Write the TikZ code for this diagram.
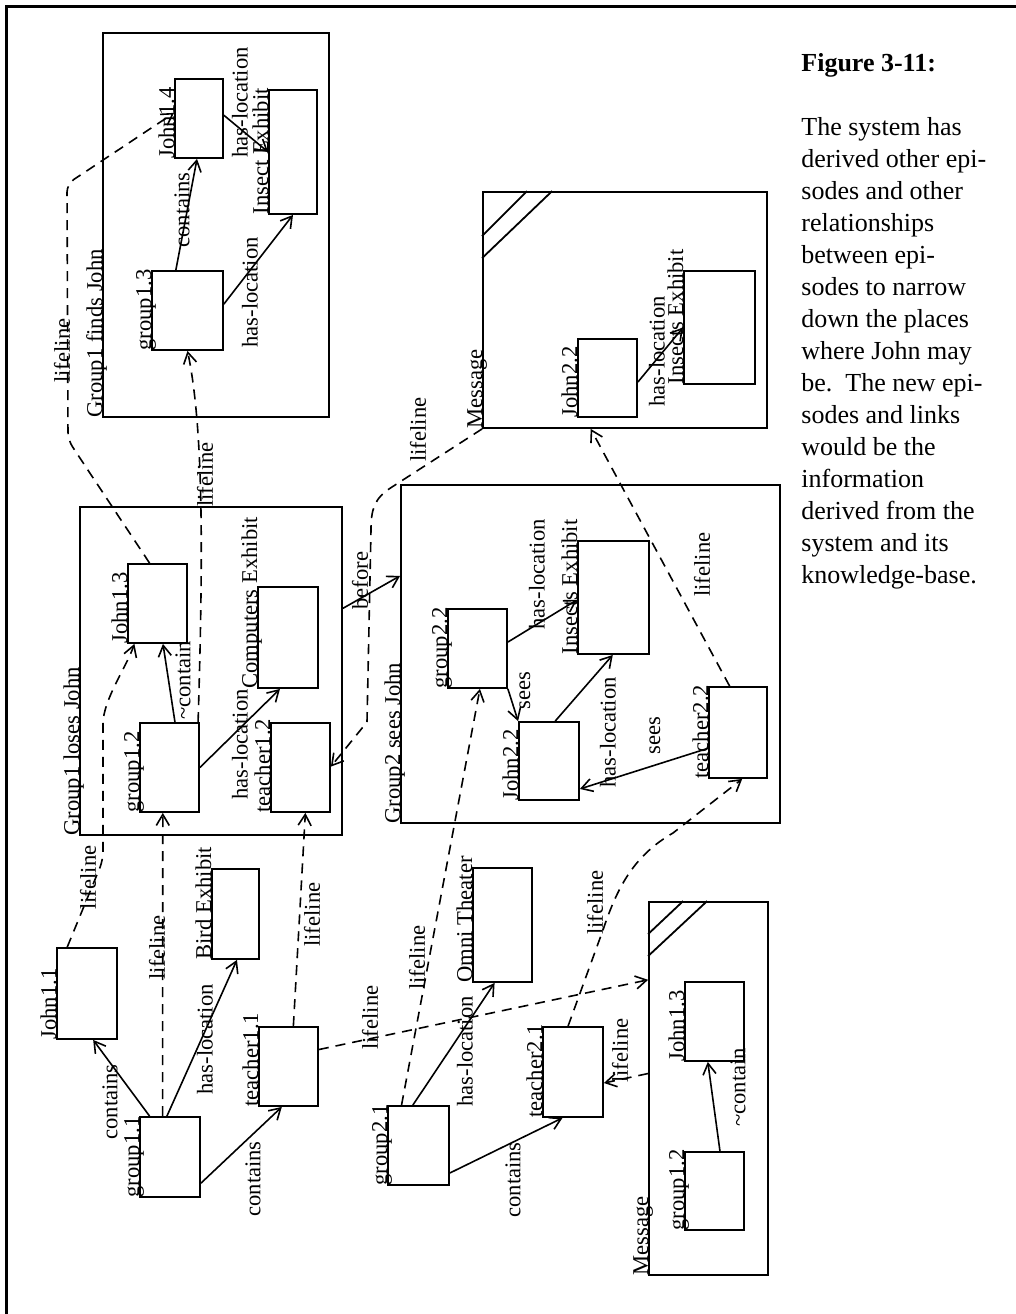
\documentclass[tikz,border=0pt]{standalone}
\usepackage{fontspec}
\setmainfont{Liberation Serif}
\usetikzlibrary{arrows.meta,calc,fit}
\begin{document}
\begin{tikzpicture}[x=0.5pt,y=-0.5pt,
  box/.style={draw,line width=0.9pt,inner sep=0pt},
  lbl/.style={rotate=90,inner sep=0pt,font=\fontsize{11.3pt}{13pt}\selectfont},
  boxlbl/.style={lbl,anchor=base west},
  edgelbl/.style={lbl,anchor=west},
  rel/.style={line width=0.8pt,-{Straight Barb[length=5.5pt,width=6.5pt,line width=0.8pt]}},
  life/.style={rel,dash pattern=on 5pt off 3.5pt},
  hatch/.style={line width=0.9pt}
]
\useasboundingbox (0,0) rectangle (1016,1314);
% page frame
\draw[line width=1.5pt] (6.5,1314) -- (6.5,6.5) -- (1016,6.5);

% ---------- episode: Group1 finds John ----------
\node[box,fit={(103,33) (329,417)}] (g1f) {};
\node[box,fit={(175,79) (223,158)}] (j14) {};
\node[box,fit={(269,90) (317,214)}] (ie1) {};
\node[box,fit={(152,271) (223,350)}] (g13) {};
\node[boxlbl] (g1f-l) at (g1f.south west) {Group1 finds John};
\node[boxlbl] (j14-l) at (j14.south west) {John1.4};
\node[boxlbl] (ie1-l) at (ie1.south west) {Insect Exhibit};
\node[boxlbl] (g13-l) at (g13.south west) {group1.3};

% ---------- episode: Group1 loses John ----------
\node[box,fit={(80,507) (342,835)}] (g1l) {};
\node[box,fit={(128,564) (187,643)}] (j13) {};
\node[box,fit={(258,587) (318,688)}] (ce) {};
\node[box,fit={(140,723) (199,812)}] (g12) {};
\node[box,fit={(271,723) (330,812)}] (t12) {};
\node[boxlbl] (g1l-l) at (g1l.south west) {Group1 loses John};
\node[boxlbl] (j13-l) at (j13.south west) {John1.3};
\node[boxlbl] (ce-l) at (ce.south west) {Computers Exhibit};
\node[boxlbl] (g12-l) at (g12.south west) {group1.2};
\node[boxlbl] (t12-l) at (t12.south west) {teacher1.2};

% ---------- message (upper) ----------
\node[box,fit={(483,192) (767,428)}] (msgt) {};
\node[box,fit={(578,339) (637,417)}] (j22m) {};
\node[box,fit={(684,271) (755,384)}] (iem) {};
\draw[hatch] ($(msgt.north west)+(0,45)$) -- ($(msgt.north west)+(45,0)$);
\draw[hatch] ($(msgt.north west)+(0,67)$) -- ($(msgt.north west)+(70,0)$);
\node[boxlbl] (msgt-l) at (msgt.south west) {Message};
\node[boxlbl] (j22m-l) at (j22m.south west) {John2.2};
\node[boxlbl] (iem-l) at (iem.south west) {Insects Exhibit};

% ---------- episode: Group2 sees John ----------
\node[box,fit={(401,485) (780,823)}] (g2s) {};
\node[box,fit={(448,609) (507,688)}] (g22) {};
\node[box,fit={(578,541) (649,654)}] (ie2) {};
\node[box,fit={(519,722) (579,800)}] (j22) {};
\node[box,fit={(709,687) (767,778)}] (t22) {};
\node[boxlbl] (g2s-l) at (g2s.south west) {Group2 sees John};
\node[boxlbl] (g22-l) at (g22.south west) {group2.2};
\node[boxlbl] (ie2-l) at (ie2.south west) {Insects Exhibit};
\node[boxlbl] (j22-l) at (j22.south west) {John2.2};
\node[boxlbl] (t22-l) at (t22.south west) {teacher2.2};

% ---------- initial episode, group 1 ----------
\node[box,fit={(57,948) (117,1039)}] (j11) {};
\node[box,fit={(212,869) (259,959)}] (be) {};
\node[box,fit={(140,1117) (200,1197)}] (g11) {};
\node[box,fit={(259,1027) (318,1106)}] (t11) {};
\node[boxlbl] (j11-l) at (j11.south west) {John1.1};
\node[boxlbl] (be-l) at (be.south west) {Bird Exhibit};
\node[boxlbl] (g11-l) at (g11.south west) {group1.1};
\node[boxlbl] (t11-l) at (t11.south west) {teacher1.1};

% ---------- initial episode, group 2 ----------
\node[box,fit={(473,868) (532,982)}] (ot) {};
\node[box,fit={(388,1106) (449,1185)}] (g21) {};
\node[box,fit={(543,1027) (603,1117)}] (t21) {};
\node[boxlbl] (ot-l) at (ot.south west) {Omni Theater};
\node[boxlbl] (g21-l) at (g21.south west) {group2.1};
\node[boxlbl] (t21-l) at (t21.south west) {teacher2.1};

% ---------- message (lower) ----------
\node[box,fit={(649,902) (768,1275)}] (msgb) {};
\node[box,fit={(685,982) (744,1061)}] (j13m) {};
\node[box,fit={(685,1152) (744,1230)}] (g12m) {};
\draw[hatch] ($(msgb.north west)+(0,33)$) -- ($(msgb.north west)+(35,0)$);
\draw[hatch] ($(msgb.north west)+(0,55)$) -- ($(msgb.north west)+(59,0)$);
\node[boxlbl] (msgb-l) at (msgb.south west) {Message};
\node[boxlbl] (j13m-l) at (j13m.south west) {John1.3};
\node[boxlbl] (g12m-l) at (g12m.south west) {group1.2};

% ---------- relations ----------
\draw[rel] ($(g13.north west)!0.34!(g13.north east)$) -- ($(j14.south west)!0.46!(j14.south east)$);
\draw[rel] ($(g13.north east)!0.42!(g13.south east)$) -- ($(ie1.south west)!0.5!(ie1.south east)$);
\draw[rel] ($(j14.north east)!0.46!(j14.south east)$) -- ($(ie1.north west)!0.5!(ie1.south west)$);
\draw[rel] ($(g12.north west)!0.59!(g12.north east)$) -- ($(j13.south west)!0.59!(j13.south east)$);
\draw[rel] ($(g12.north east)!0.5!(g12.south east)$) -- ($(ce.south west)!0.37!(ce.south east)$);
\draw[rel] ($(g1l.north east)!0.31!(g1l.south east)$) -- ($(g2s.north west)!0.27!(g2s.south west)$);
\draw[rel] ($(g22.north east)!0.42!(g22.south east)$) -- ($(ie2.north west)!0.52!(ie2.south west)$);
\draw[rel] (g22.south east) -- (j22.north west);
\draw[rel] ($(j22.north west)!0.6!(j22.north east)$) -- ($(ie2.south west)!0.49!(ie2.south east)$);
\draw[rel] ($(t22.north west)!0.67!(t22.south west)$) -- ($(j22.north east)!0.85!(j22.south east)$);
\draw[rel] ($(j22m.north east)!0.55!(j22m.south east)$) -- ($(iem.north west)!0.5!(iem.south west)$);
\draw[rel] ($(g11.north west)!0.17!(g11.north east)$) -- ($(j11.south west)!0.6!(j11.south east)$);
\draw[rel] ($(g11.north west)!0.45!(g11.north east)$) -- ($(be.south west)!0.53!(be.south east)$);
\draw[rel] ($(g11.north east)!0.82!(g11.south east)$) -- ($(t11.south west)!0.39!(t11.south east)$);
\draw[rel] ($(g21.north west)!0.41!(g21.north east)$) -- ($(ot.south west)!0.37!(ot.south east)$);
\draw[rel] ($(g21.north east)!0.84!(g21.south east)$) -- ($(t21.south west)!0.33!(t21.south east)$);
\draw[rel] ($(g12m.north west)!0.59!(g12m.north east)$) -- ($(j13m.south west)!0.39!(j13m.south east)$);

% ---------- lifelines ----------
\draw[life,rounded corners=4pt] ($(j11.north west)!0.18!(j11.north east)$) -- (103,860) -- (103,732)
  .. controls (103,700) and (126,668) .. ($(j13.south west)!0.12!(j13.south east)$);
\draw[life,rounded corners=4pt] ($(j13.north west)!0.37!(j13.north east)$) -- (68,440) -- (67,184)
  -- ($(j14.north west)!0.43!(j14.south west)$);
\draw[life] ($(g12.north west)!0.97!(g12.north east)$) .. controls (203,560) and (204,430) .. ($(g13.south west)!0.5!(g13.south east)$);
\draw[life] ($(g11.north west)!0.38!(g11.north east)$) -- ($(g12.south west)!0.39!(g12.south east)$);
\draw[life] ($(t11.north west)!0.58!(t11.north east)$) -- ($(t12.south west)!0.58!(t12.south east)$);
\draw[life] ($(t11.north east)!0.29!(t11.south east)$) -- ($(msgb.north west)!0.21!(msgb.south west)$);
\draw[life] ($(g21.north west)!0.23!(g21.north east)$) -- ($(g22.south west)!0.54!(g22.south east)$);
\draw[life] ($(t21.north west)!0.42!(t21.north east)$) -- (603,930) .. controls (618,885) and (635,855) .. (673,833)
  -- ($(t22.south west)!0.57!(t22.south east)$);
\draw[life] ($(msgb.north west)!0.46!(msgb.south west)$) -- ($(t21.north east)!0.62!(t21.south east)$);
\draw[life] ($(t22.north west)!0.36!(t22.north east)$) -- ($(msgt.south west)!0.38!(msgt.south east)$);
\draw[life] (msgt.south west) -- (392,487) .. controls (374,498) and (371,510) .. (371,530) -- (367,722)
  -- ($(t12.north east)!0.49!(t12.south east)$);

% ---------- relation and lifeline labels ----------
\node[edgelbl] (e1) at (182,248) {contains};
\node[edgelbl] (e2) at (250,348) {has-location};
\node[edgelbl] (e3) at (240,158) {has-location};
\node[edgelbl] (e4) at (62,383) {lifeline};
\node[edgelbl] (e5) at (183,720) {\textasciitilde contain};
\node[edgelbl] (e6) at (240,800) {has-location};
\node[edgelbl] (e7) at (205,507) {lifeline};
\node[edgelbl] (e8) at (360,610) {before};
\node[edgelbl] (e9) at (418,462) {lifeline};
\node[edgelbl] (e10) at (537,630) {has-location};
\node[edgelbl] (e11) at (525,710) {sees};
\node[edgelbl] (e12) at (608,788) {has-location};
\node[edgelbl] (e13) at (655,755) {sees};
\node[edgelbl] (e14) at (702,597) {lifeline};
\node[edgelbl] (e15) at (657,407) {has-location};
\node[edgelbl] (e16) at (88,910) {lifeline};
\node[edgelbl] (e17) at (157,980) {lifeline};
\node[edgelbl] (e18) at (312,947) {lifeline};
\node[edgelbl] (e19) at (110,1140) {contains};
\node[edgelbl] (e20) at (205,1095) {has-location};
\node[edgelbl] (e21) at (253,1217) {contains};
\node[edgelbl] (e22) at (370,1050) {lifeline};
\node[edgelbl] (e23) at (417,990) {lifeline};
\node[edgelbl] (e24) at (465,1107) {has-location};
\node[edgelbl] (e25) at (513,1218) {contains};
\node[edgelbl] (e26) at (595,935) {lifeline};
\node[edgelbl] (e27) at (620,1083) {lifeline};
\node[edgelbl] (e28) at (738,1127) {\textasciitilde contain};

% ---------- caption (anchored at the baseline of its last line) ----------
\node[anchor=base west,align=left,inner sep=0pt,font=\fontsize{13pt}{16pt}\selectfont] (cap) at (801,583)
 {\textbf{Figure 3-11:}\\[16pt]
  The system has\\
  derived other epi-\\
  sodes and other\\
  relationships\\
  between epi-\\
  sodes to narrow\\
  down the places\\
  where John may\\
  be.~~The new epi-\\
  sodes and links\\
  would be the\\
  information\\
  derived from the\\
  system and its\\
  knowledge-base.};
\end{tikzpicture}
\end{document}
